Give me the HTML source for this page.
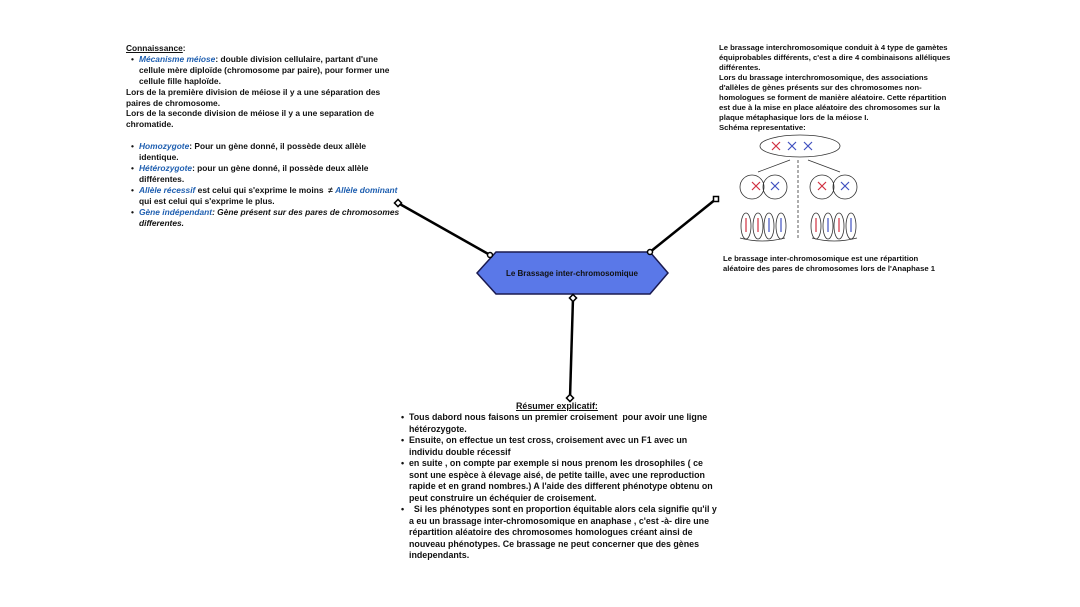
<!DOCTYPE html>
<html><head><meta charset="utf-8"><style>
body{margin:0;width:1080px;height:607px;background:#fff;position:relative;overflow:hidden;font-family:"Liberation Sans",sans-serif;font-weight:bold;font-size:8.4px;color:#111}
.t{position:absolute;line-height:10.9px;white-space:nowrap}
.b{color:#1f5fb0;font-style:italic}
.i{font-style:italic}
.d{display:inline-block;width:13px;text-align:center}
.ind{padding-left:13px}
</style></head><body>
<svg width="1080" height="607" style="position:absolute;left:0;top:0">
<g stroke="#000" stroke-width="2.5" fill="none">
<line x1="398" y1="203" x2="490" y2="255"/>
<line x1="716" y1="199" x2="650" y2="252"/>
<line x1="573" y1="298" x2="570" y2="398"/>
</g>
<polygon points="477,273 496,252 650,252 668,273 650,294 496,294" fill="#5a78e8" stroke="#1a1a50" stroke-width="1.5"/>
<g fill="#fff" stroke="#000" stroke-width="1.5">
<rect x="395.5" y="200.5" width="5" height="5" transform="rotate(45 398 203)"/>
<rect x="713.5" y="196.5" width="5" height="5"/>
<circle cx="490" cy="255" r="2.5"/><circle cx="650" cy="252" r="2.5"/>
<rect x="570.5" y="295.5" width="5" height="5" transform="rotate(45 573 298)"/>
<rect x="567.5" y="395.5" width="5" height="5" transform="rotate(45 570 398)"/>
</g>
<text x="572" y="276" font-family="Liberation Sans" font-weight="bold" font-size="8" text-anchor="middle" fill="#111">Le Brassage inter-chromosomique</text>
<g fill="none" stroke="#333" stroke-width="0.8">
<ellipse cx="800" cy="146" rx="40" ry="11"/>
<circle cx="752" cy="187" r="12"/><circle cx="775" cy="187" r="12"/>
<circle cx="822" cy="187" r="12"/><circle cx="845" cy="187" r="12"/>
<ellipse cx="746" cy="226" rx="5" ry="13"/><ellipse cx="758" cy="226" rx="5" ry="13"/>
<ellipse cx="769" cy="226" rx="5" ry="13"/><ellipse cx="781" cy="226" rx="5" ry="13"/>
<ellipse cx="816" cy="226" rx="5" ry="13"/><ellipse cx="828" cy="226" rx="5" ry="13"/>
<ellipse cx="839" cy="226" rx="5" ry="13"/><ellipse cx="851" cy="226" rx="5" ry="13"/>
<line x1="798" y1="160" x2="798" y2="240" stroke-dasharray="3,2"/>
<path d="M790 160 L758 172 M808 160 L840 172 M740 238 Q762 244 785 238 M812 238 Q834 244 857 238"/>
</g>
<g stroke-width="1.2">
<path d="M772 142 l8 8 M780 142 l-8 8 M752 182 l8 8 M760 182 l-8 8 M818 182 l8 8 M826 182 l-8 8" stroke="#d03040"/>
<path d="M788 142 l8 8 M796 142 l-8 8 M804 142 l8 8 M812 142 l-8 8 M771 182 l8 8 M779 182 l-8 8 M841 182 l8 8 M849 182 l-8 8" stroke="#4050c0"/>
<path d="M746 218 v14 M758 218 v14 M816 218 v14 M839 218 v14" stroke="#d03040"/>
<path d="M769 218 v14 M781 218 v14 M828 218 v14 M851 218 v14" stroke="#4050c0"/>
</g>
</svg>

<div class="t" style="left:126px;top:43px">
<u>Connaissance</u>:<br>
<span class="d">•</span><span class="b">Mécanisme méiose</span>: double division cellulaire, partant d'une<br>
<span class="ind">cellule mère diploïde (chromosome par paire), pour former une</span><br>
<span class="ind">cellule fille haploïde.</span><br>
Lors de la première division de méiose il y a une séparation des<br>
paires de chromosome.<br>
Lors de la seconde division de méiose il y a une separation de<br>
chromatide.<br><br>
<span class="d">•</span><span class="b">Homozygote</span>: Pour un gène donné, il possède deux allèle<br>
<span class="ind">identique.</span><br>
<span class="d">•</span><span class="b">Hétérozygote</span>: pour un gène donné, il possède deux allèle<br>
<span class="ind">différentes.</span><br>
<span class="d">•</span><span class="b">Allèle récessif</span> est celui qui s'exprime le moins &nbsp;≠ <span class="b">Allèle dominant</span><br>
<span class="ind">qui est celui qui s'exprime le plus.</span><br>
<span class="d">•</span><span class="b">Gène indépendant</span><span class="i">: Gène présent sur des pares de chromosomes</span><br>
<span class="ind i">differentes.</span>
</div>

<div class="t" style="left:719px;top:43px;font-size:7.7px;line-height:10px">
Le brassage interchromosomique conduit à 4 type de gamètes<br>
équiprobables différents, c'est a dire 4 combinaisons alléliques<br>
différentes.<br>
Lors du brassage interchromosomique, des associations<br>
d'allèles de gènes présents sur des chromosomes non-<br>
homologues se forment de manière aléatoire. Cette répartition<br>
est due à la mise en place aléatoire des chromosomes sur la<br>
plaque métaphasique lors de la méiose I.<br>
Schéma representative:
</div>

<div class="t" style="left:723px;top:254px;font-size:7.7px;line-height:10px">
Le brassage inter-chromosomique est une répartition<br>
aléatoire des pares de chromosomes lors de l'Anaphase 1
</div>

<div class="t" style="left:516px;top:401px;font-size:8.9px"><u>Résumer explicatif:</u></div>
<div class="t" style="left:396px;top:412px;line-height:11.5px;font-size:8.9px">
<span class="d">•</span>Tous dabord nous faisons un premier croisement &nbsp;pour avoir une ligne<br>
<span class="ind">hétérozygote.</span><br>
<span class="d">•</span>Ensuite, on effectue un test cross, croisement avec un F1 avec un<br>
<span class="ind">individu double récessif</span><br>
<span class="d">•</span>en suite , on compte par exemple si nous prenom les drosophiles ( ce<br>
<span class="ind">sont une espèce à élevage aisé, de petite taille, avec une reproduction</span><br>
<span class="ind">rapide et en grand nombres.) A l'aide des different phénotype obtenu on</span><br>
<span class="ind">peut construire un échéquier de croisement.</span><br>
<span class="d">•</span>&nbsp; Si les phénotypes sont en proportion équitable alors cela signifie qu'il y<br>
<span class="ind">a eu un brassage inter-chromosomique en anaphase , c'est -à- dire une</span><br>
<span class="ind">répartition aléatoire des chromosomes homologues créant ainsi de</span><br>
<span class="ind">nouveau phénotypes. Ce brassage ne peut concerner que des gènes</span><br>
<span class="ind">independants.</span>
</div>
</body></html>
